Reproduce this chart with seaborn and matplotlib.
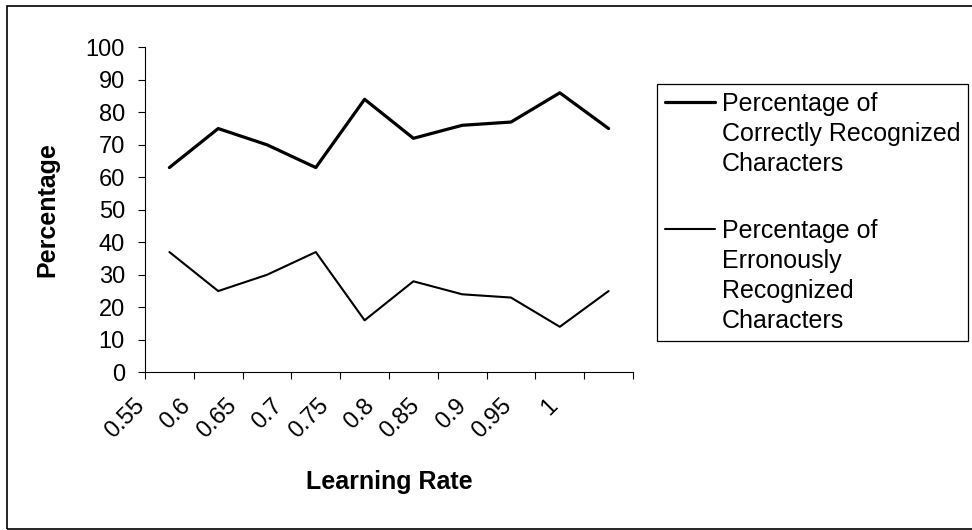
import numpy as np
import pandas as pd
import matplotlib
matplotlib.use("Agg")
import matplotlib.pyplot as plt
import matplotlib.transforms as mtransforms
from matplotlib.patches import Rectangle
import seaborn as sns

# ---- data ----
learning_rates = ["0.55", "0.6", "0.65", "0.7", "0.75", "0.8", "0.85", "0.9", "0.95", "1"]
correct_pct = [63, 75, 70, 63, 84, 72, 76, 77, 86, 75]
error_pct = [37, 25, 30, 37, 16, 28, 24, 23, 14, 25]
series_labels = ["Percentage of\nCorrectly Recognized\nCharacters",
                 "Percentage of\nErronously\nRecognized\nCharacters"]
y_ticks = list(range(0, 101, 10))

df = pd.DataFrame({"rate": learning_rates, "correct": correct_pct, "error": error_pct})

sns.set_theme(style="white")
plt.rcParams["font.family"] = ["Liberation Sans", "DejaVu Sans"]
plt.rcParams["text.color"] = "black"
plt.rcParams["axes.labelcolor"] = "black"
plt.rcParams["xtick.color"] = "black"
plt.rcParams["ytick.color"] = "black"

DPI = 100
fig = plt.figure(figsize=(9.72, 5.30), dpi=DPI)
ax = fig.add_axes([145 / 972, 1 - 372.3 / 530, 488 / 972, 325 / 530])

sns.lineplot(data=df, x="rate", y="correct", ax=ax, color="black", linewidth=2.3,
             label=series_labels[0], sort=False)
sns.lineplot(data=df, x="rate", y="error", ax=ax, color="black", linewidth=1.5,
             label=series_labels[1], sort=False)

n = len(learning_rates)
ax.set_xlim(-0.5, n - 0.5)
ax.set_ylim(0, 100)
ax.set_yticks(y_ticks)
ax.set_yticklabels([str(v) for v in y_ticks], fontsize=17)
ax.set_xticks(np.arange(-0.5, n, 1.0))
ax.set_xticklabels([])
ax.tick_params(axis="both", direction="out", length=5, width=0.8, color="black")
ax.tick_params(axis="y", pad=9.4)
ax.tick_params(left=True, bottom=True)

for side in ["top", "right"]:
    ax.spines[side].set_visible(False)
for side in ["left", "bottom"]:
    ax.spines[side].set_color("black")
    ax.spines[side].set_linewidth(0.8)

# rotated category labels (Excel-like placement)
base = mtransforms.blended_transform_factory(ax.transData, ax.transAxes)
for i, lab in enumerate(learning_rates):
    dx = (-28 - 2.9 * i) / DPI
    off = mtransforms.ScaledTranslation(dx, -30 / DPI, fig.dpi_scale_trans)
    ax.text(i, 0, lab, transform=base + off, rotation=45, rotation_mode="anchor",
            ha="right", va="center", fontsize=17, clip_on=False)

ax.set_xlabel("Learning Rate", fontsize=18, fontweight="bold", va="center")
ax.xaxis.set_label_coords(0.5, (372.3 - 482) / 325)
ax.set_ylabel("Percentage", fontsize=18, fontweight="bold", va="center")
ax.yaxis.set_label_coords((47 - 145) / 488, 0.5)

# legend
handles, labels = ax.get_legend_handles_labels()
leg = ax.legend(handles, labels, loc="upper left",
                bbox_to_anchor=(657 / 972, 1 - 84 / 530), bbox_transform=fig.transFigure,
                fontsize=18, frameon=True, fancybox=False, shadow=False,
                edgecolor="black", framealpha=1, borderpad=0.3, borderaxespad=0,
                handlelength=2.0, handletextpad=0.28, labelspacing=1.74,
                handleheight=1.1)
leg.get_frame().set_linewidth(0.9)
for t in leg.get_texts():
    t.set_linespacing(1.32)
for col in leg._legend_handle_box.get_children():
    for item in col.get_children():
        item.align = "top"

# outer chart border
fig.add_artist(Rectangle((7 / 972, 1 / 530), 1.05, 1 - 6 / 530 - 1 / 530,
                         transform=fig.transFigure, fill=False, edgecolor="black",
                         linewidth=1.2, clip_on=False))

fig.savefig("out.png", dpi=DPI)
